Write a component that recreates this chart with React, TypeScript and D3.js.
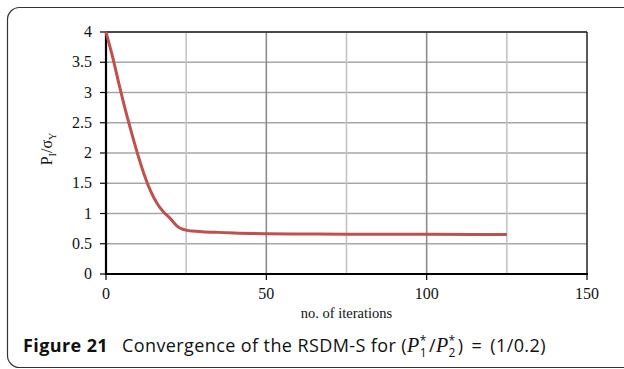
import React from "react";
import * as d3 from "d3";

const iterations = [0, 2, 4, 6, 8, 10, 12, 14, 16, 18, 20, 22, 23, 24, 25, 27, 30, 35, 40, 50, 60, 75, 100, 125];
const ratio = [4, 3.6, 3.15, 2.72, 2.33, 1.96, 1.63, 1.36, 1.16, 1.02, 0.92, 0.8, 0.76, 0.74, 0.725, 0.71, 0.7, 0.688, 0.678, 0.667, 0.662, 0.658, 0.655, 0.654];
const xTicks = [0, 50, 100, 150];
const xGrid = [25, 50, 75, 100, 125];
const yTicks = [0, 0.5, 1, 1.5, 2, 2.5, 3, 3.5, 4];

const W = 624, H = 369;
const L = 106, R = 587, T = 32, B = 274;

export default function App() {
  const x = d3.scaleLinear().domain([0, 150]).range([L, R]);
  const y = d3.scaleLinear().domain([0, 4]).range([B, T]);
  const pts: [number, number][] = iterations.map((v, i) => [v, ratio[i]]);
  const line = d3.line<[number, number]>().x(d => x(d[0])).y(d => y(d[1])).curve(d3.curveMonotoneX);
  const serif = "'Liberation Serif', 'Times New Roman', serif";
  const sans = "'Open Sans', 'Noto Sans', sans-serif";
  return (
    <svg width={W} height={H} style={{ position: "absolute", left: 0, top: 0, background: "#fff" }}>
      <rect x={7.5} y={7.5} width={640} height={360} rx={12} ry={12} fill="#fff" stroke="#333" strokeWidth={1.2} />
      {yTicks.filter(t => t > 0).map(t => (
        <line key={"h" + t} x1={L} x2={R} y1={y(t)} y2={y(t)} stroke="#a6a6a6" strokeWidth={1.6} />
      ))}
      {xGrid.map(t => (
        <line key={"v" + t} x1={x(t)} x2={x(t)} y1={T} y2={B} stroke={t % 50 === 0 ? "#8c8c8c" : "#c4c4c4"} strokeWidth={1.6} />
      ))}
      <line x1={L} x2={R} y1={T} y2={T} stroke="#222" strokeWidth={1.5} />
      <line x1={R} x2={R} y1={T} y2={B} stroke="#222" strokeWidth={1.5} />
      <line x1={L} x2={L} y1={T} y2={B + 1} stroke="#000" strokeWidth={2.2} />
      <line x1={L - 1} x2={R + 1} y1={B} y2={B} stroke="#000" strokeWidth={2.2} />
      {yTicks.map(t => (
        <g key={"yt" + t}>
          <line x1={L - 6} x2={L} y1={y(t)} y2={y(t)} stroke="#000" strokeWidth={1.2} />
          <text x={L - 14} y={y(t) + 5} textAnchor="end" fontFamily={serif} fontSize={16} fill="#111">{t}</text>
        </g>
      ))}
      {xTicks.map(t => (
        <g key={"xt" + t}>
          <line x1={x(t)} x2={x(t)} y1={B} y2={B + 6} stroke="#000" strokeWidth={1.2} />
          <text x={x(t)} y={299} textAnchor="middle" fontFamily={serif} fontSize={16} fill="#111">{t}</text>
        </g>
      ))}
      <text x={x(75)} y={318} textAnchor="middle" fontFamily={serif} fontSize={14.5} fill="#111">no. of iterations</text>
      <text transform={`translate(52,${(T + B) / 2 - 4}) rotate(-90)`} textAnchor="middle" fontFamily={serif} fontSize={16} fill="#111">
        P<tspan fontSize={10} dy={4}>I</tspan><tspan dy={-4}>/σ</tspan><tspan fontSize={10} dy={4}>Y</tspan>
      </text>
      <path d={line(pts) || ""} fill="none" stroke="#c0504d" strokeWidth={3} strokeLinejoin="round" />
      <text x={23} y={352} fontFamily={sans} fontSize={18} letterSpacing={0.4} fill="#111">
        <tspan fontWeight="bold">Figure 21</tspan>
        <tspan dx={14}>Convergence of the RSDM-S for (</tspan>
        <tspan fontFamily={serif} fontStyle="italic" fontSize={20}>P</tspan>
        <tspan fontSize={12} dy={-7}>*</tspan>
        <tspan fontSize={12} dy={12} dx={-7}>1</tspan>
        <tspan dy={-5} dx={2}>/</tspan>
        <tspan fontFamily={serif} fontStyle="italic" fontSize={20}>P</tspan>
        <tspan fontSize={12} dy={-7}>*</tspan>
        <tspan fontSize={12} dy={12} dx={-7}>2</tspan>
        <tspan dy={-5} dx={2}>)</tspan>
        <tspan dx={8}>=</tspan>
        <tspan dx={8}>(1/0.2)</tspan>
      </text>
    </svg>
  );
}
